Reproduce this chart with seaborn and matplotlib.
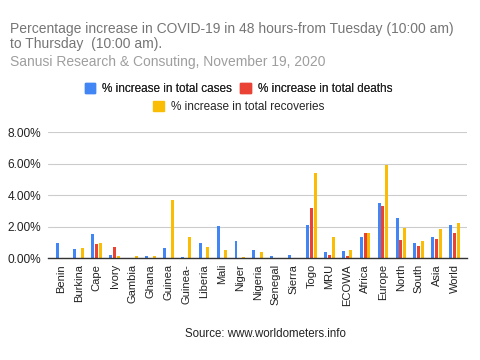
import pandas as pd
import matplotlib
matplotlib.use('Agg')
import matplotlib.pyplot as plt
import matplotlib.patches as mpatches
import seaborn as sns
from matplotlib.ticker import FuncFormatter

# Data
countries = ['Benin', 'Burkina', 'Cape', 'Ivory', 'Gambia', 'Ghana', 'Guinea', 'Guinea-',
             'Liberia', 'Mali', 'Niger', 'Nigeria', 'Senegal', 'Sierra', 'Togo', 'MRU',
             'ECOWA', 'Africa', 'Europe', 'North', 'South', 'Asia', 'World']
cases = [1.01, 0.59, 1.58, 0.23, 0.02, 0.13, 0.67, 0.08, 0.97, 2.08, 1.09, 0.55,
         0.13, 0.19, 2.13, 0.42, 0.46, 1.39, 3.54, 2.55, 1.01, 1.35, 2.13]
deaths = [0.0, 0.0, 0.91, 0.74, 0.0, 0.0, 0.0, 0.0, 0.0, 0.0, 0.0, 0.0,
          0.0, 0.0, 3.22, 0.23, 0.13, 1.64, 3.35, 1.14, 0.78, 1.26, 1.64]
recoveries = [0.0, 0.67, 0.95, 0.17, 0.13, 0.13, 3.68, 1.35, 0.74, 0.55, 0.08, 0.40,
              0.06, 0.04, 5.39, 1.35, 0.55, 1.64, 5.94, 1.94, 1.09, 1.89, 2.25]
series_names = ['% increase in total cases', '% increase in total deaths',
                '% increase in total recoveries']
colors = ['#4285F4', '#EA4335', '#FBBC04']

df = pd.DataFrame({'Country': countries, series_names[0]: cases,
                   series_names[1]: deaths, series_names[2]: recoveries})
long_df = df.melt(id_vars='Country', var_name='Series', value_name='Value')

sns.set_style('white')
plt.rcParams['font.family'] = ['Liberation Sans', 'DejaVu Sans']

fig = plt.figure(figsize=(4.8, 3.6), dpi=100)
ax = fig.add_axes([0.1, 0.282, 0.873, 0.351])

sns.barplot(data=long_df, x='Country', y='Value', hue='Series', palette=colors,
            width=0.64, gap=0.22, legend=False, ax=ax, saturation=1, linewidth=0)
for p in ax.patches:
    p.set_antialiased(False)

ax.set_ylim(0, 8)
ax.set_yticks([0, 2, 4, 6, 8])
ax.yaxis.set_major_formatter(FuncFormatter(lambda v, p: f'{v:.2f}%'))
ax.grid(axis='y', color='#cccccc', linewidth=0.8)
ax.set_axisbelow(True)
for s in ['top', 'right', 'left']:
    ax.spines[s].set_visible(False)
ax.spines['bottom'].set_color('#333333')
ax.spines['bottom'].set_linewidth(1)
ax.set_xlim(-0.72, len(countries) - 0.3)
ax.tick_params(axis='x', rotation=90, labelsize=8, length=0, pad=4, labelcolor='#222222')
ax.tick_params(axis='y', labelsize=8.6, length=0, pad=5, labelcolor='#222222')
ax.set_xlabel('')
ax.set_ylabel('')

fig.text(0.021, 0.94, 'Percentage increase in COVID-19 in 48 hours-from Tuesday (10:00 am)\nto Thursday  (10:00 am).',
         fontsize=10, color='#757575', va='top', ha='left', linespacing=1.1)
fig.text(0.021, 0.828, 'Sanusi Research & Consuting, November 19, 2020',
         fontsize=10, color='#9e9e9e', va='center', ha='left')

handles = [mpatches.Patch(color=c, label=n) for c, n in zip(colors, series_names)]
leg1 = fig.legend(handles=handles[:2], loc='center', bbox_to_anchor=(0.497, 0.752), ncol=2,
                  frameon=False, fontsize=8.5, handlelength=0.9, handleheight=0.9,
                  handletextpad=0.6, columnspacing=0.7, borderpad=0)
leg2 = fig.legend(handles=handles[2:], loc='center', bbox_to_anchor=(0.497, 0.703), ncol=1,
                  frameon=False, fontsize=8.5, handlelength=0.9, handleheight=0.9,
                  handletextpad=0.6, borderpad=0)
fig.add_artist(leg1)

fig.text(0.553, 0.073, 'Source: www.worldometers.info', fontsize=8.3, color='#222222',
         ha='center', va='center')

fig.savefig('out.png', dpi=100)
